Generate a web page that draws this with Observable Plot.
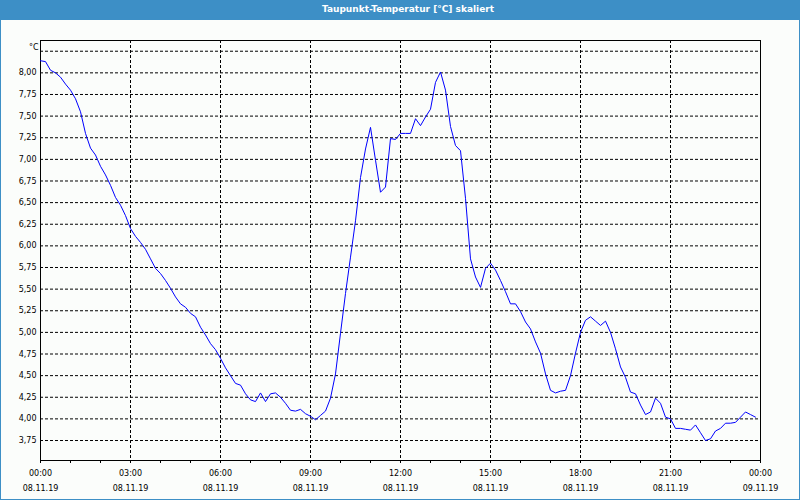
<!DOCTYPE html>
<html>
<head>
<meta charset="utf-8">
<script src="https://cdn.jsdelivr.net/npm/d3@7"></script>
<script src="https://cdn.jsdelivr.net/npm/@observablehq/plot@0.6"></script>
<style>
  html, body { margin: 0; padding: 0; background: #fbfdfb; }
  #wrap { position: relative; width: 800px; height: 500px; background: #fbfdfb; overflow: hidden; }
  #title { position: absolute; left: 0; top: 0; width: 800px; height: 20px; background: #3d8fc6;
           color: #fff; font-family: "DejaVu Sans", sans-serif; font-weight: bold; font-size: 9px;
           line-height: 18px; text-align: center; padding-left: 16px; box-sizing: border-box; }
  #chart { position: absolute; left: 0; top: 20px; }
  #border { position: absolute; left: 0; top: 0; width: 800px; height: 500px; box-sizing: border-box;
            border: 1px solid #3d8fc6; pointer-events: none; }
</style>
</head>
<body>
<div id="wrap">
  <div id="title">Taupunkt-Temperatur [°C] skaliert</div>
  <div id="chart"></div>
  <div id="border"></div>
</div>
<script>
// Minutes after 08.11.19 00:00
const minutes = [
  0,10,20,30,40,50,60,70,80,90,100,110,
  120,130,140,150,160,170,180,190,200,210,220,230,
  240,250,260,270,280,290,300,310,320,330,340,350,
  360,370,380,390,400,410,420,430,440,450,460,470,
  480,490,500,510,520,530,540,550,560,570,580,590,
  600,610,620,630,640,650,660,670,680,690,700,710,
  720,730,740,750,760,770,780,790,800,810,820,830,
  840,850,860,870,880,890,900,910,920,930,940,950,
  960,970,980,990,1000,1010,1020,1030,1040,1050,1060,1070,
  1080,1090,1100,1110,1120,1130,1140,1150,1160,1170,1180,1190,
  1200,1210,1220,1230,1240,1250,1260,1270,1280,1290,1300,1310,
  1320,1330,1340,1350,1360,1370,1380,1390,1400,1410,1420,1430
];
// Dew point temperature [°C]
const values = [
  8.14, 8.13, 8.03, 8.00, 7.95, 7.87, 7.80, 7.70, 7.55, 7.30, 7.13, 7.05,
  6.92, 6.82, 6.70, 6.56, 6.47, 6.35, 6.20, 6.11, 6.04, 5.96, 5.85, 5.74,
  5.68, 5.60, 5.51, 5.41, 5.33, 5.29, 5.22, 5.18, 5.06, 4.97, 4.87, 4.80,
  4.70, 4.59, 4.50, 4.41, 4.39, 4.29, 4.22, 4.20, 4.30, 4.20, 4.29, 4.30,
  4.25, 4.18, 4.10, 4.09, 4.11, 4.06, 4.03, 3.99, 4.04, 4.09, 4.24, 4.52,
  4.99, 5.45, 5.87, 6.29, 6.79, 7.12, 7.37, 6.99, 6.62, 6.68, 7.24, 7.23,
  7.30, 7.30, 7.30, 7.47, 7.39, 7.49, 7.58, 7.89, 8.01, 7.80, 7.38, 7.16,
  7.10, 6.55, 5.85, 5.64, 5.52, 5.74, 5.80, 5.72, 5.60, 5.47, 5.33, 5.33,
  5.24, 5.12, 5.04, 4.89, 4.76, 4.52, 4.33, 4.30, 4.32, 4.33, 4.50, 4.76,
  5.00, 5.14, 5.18, 5.13, 5.08, 5.13, 5.00, 4.81, 4.60, 4.48, 4.31, 4.29,
  4.16, 4.05, 4.08, 4.24, 4.18, 4.02, 4.00, 3.89, 3.89, 3.88, 3.87, 3.93,
  3.84, 3.75, 3.77, 3.86, 3.89, 3.95, 3.95, 3.96, 4.02, 4.08, 4.05, 4.02
];
// Axis ticks
const yGridValues = [3.75, 4.00, 4.25, 4.50, 4.75, 5.00, 5.25, 5.50, 5.75, 6.00, 6.25, 6.50, 6.75, 7.00, 7.25, 7.50, 7.75, 8.00, 8.25];
const yTickValues = [3.75, 4.00, 4.25, 4.50, 4.75, 5.00, 5.25, 5.50, 5.75, 6.00, 6.25, 6.50, 6.75, 7.00, 7.25, 7.50, 7.75, 8.00];
const xTickHours = [0, 3, 6, 9, 12, 15, 18, 21, 24];
const xTimeLabels = ["00:00", "03:00", "06:00", "09:00", "12:00", "15:00", "18:00", "21:00", "00:00"];
const xDateLabels = ["08.11.19", "08.11.19", "08.11.19", "08.11.19", "08.11.19", "08.11.19", "08.11.19", "08.11.19", "09.11.19"];
const xGridHours = [3, 6, 9, 12, 15, 18, 21];
const yUnit = "°C";

const start = Date.UTC(2019, 10, 8, 0, 0);
const end = Date.UTC(2019, 10, 9, 0, 0);
const hourDate = h => new Date(start + h * 3600000);
const data = minutes.map((m, i) => ({date: new Date(start + m * 60000), value: values[i]}));
const majorTicks = xTickHours.map(hourDate);
const timeLabel = new Map(majorTicks.map((d, i) => [+d, xTimeLabels[i]]));
const dateLabel = new Map(majorTicks.map((d, i) => [+d, xDateLabels[i]]));
const minorTicks = d3.utcHour.range(new Date(start), new Date(end + 1));

const font = "DejaVu Sans, sans-serif";
const chart = Plot.plot({
  width: 800,
  height: 480,
  marginTop: 20,
  marginBottom: 40,
  marginLeft: 40,
  marginRight: 40,
  style: {background: "transparent", fontFamily: font, fontSize: "8px", color: "#000", overflow: "visible"},
  x: {type: "utc", domain: [new Date(start), new Date(end)], axis: null, label: null},
  y: {domain: [3.519, 8.374], axis: null, label: null},
  marks: [
    Plot.ruleY(yGridValues, {stroke: "#000", strokeDasharray: "3,2", strokeWidth: 1}),
    Plot.ruleX(xGridHours.map(hourDate), {stroke: "#000", strokeDasharray: "3,2", strokeWidth: 1}),
    Plot.frame({stroke: "#000", strokeWidth: 1}),
    Plot.line(data, {x: "date", y: "value", stroke: "#0000ff", strokeWidth: 1}),
    Plot.axisY({ticks: yTickValues, tickSize: 0, tickPadding: 4, fill: "#000", label: null,
      tickFormat: d => d.toFixed(2).replace(".", ",")}),
    Plot.axisX({ticks: minorTicks, tickSize: 3, tickFormat: () => "", stroke: "#000", label: null}),
    Plot.axisX({ticks: majorTicks, tickSize: 0, tickPadding: 10, fill: "#000", label: null,
      tickFormat: d => timeLabel.get(+d)}),
    Plot.axisX({ticks: majorTicks, tickSize: 0, tickPadding: 25, fill: "#000", label: null,
      tickFormat: d => dateLabel.get(+d)}),
    Plot.text([yUnit], {frameAnchor: "top-left", text: d => d, dx: -2, dy: 4, textAnchor: "end", fill: "#000", fontSize: 8})
  ]
});
document.getElementById("chart").appendChild(chart);
</script>
</body>
</html>
